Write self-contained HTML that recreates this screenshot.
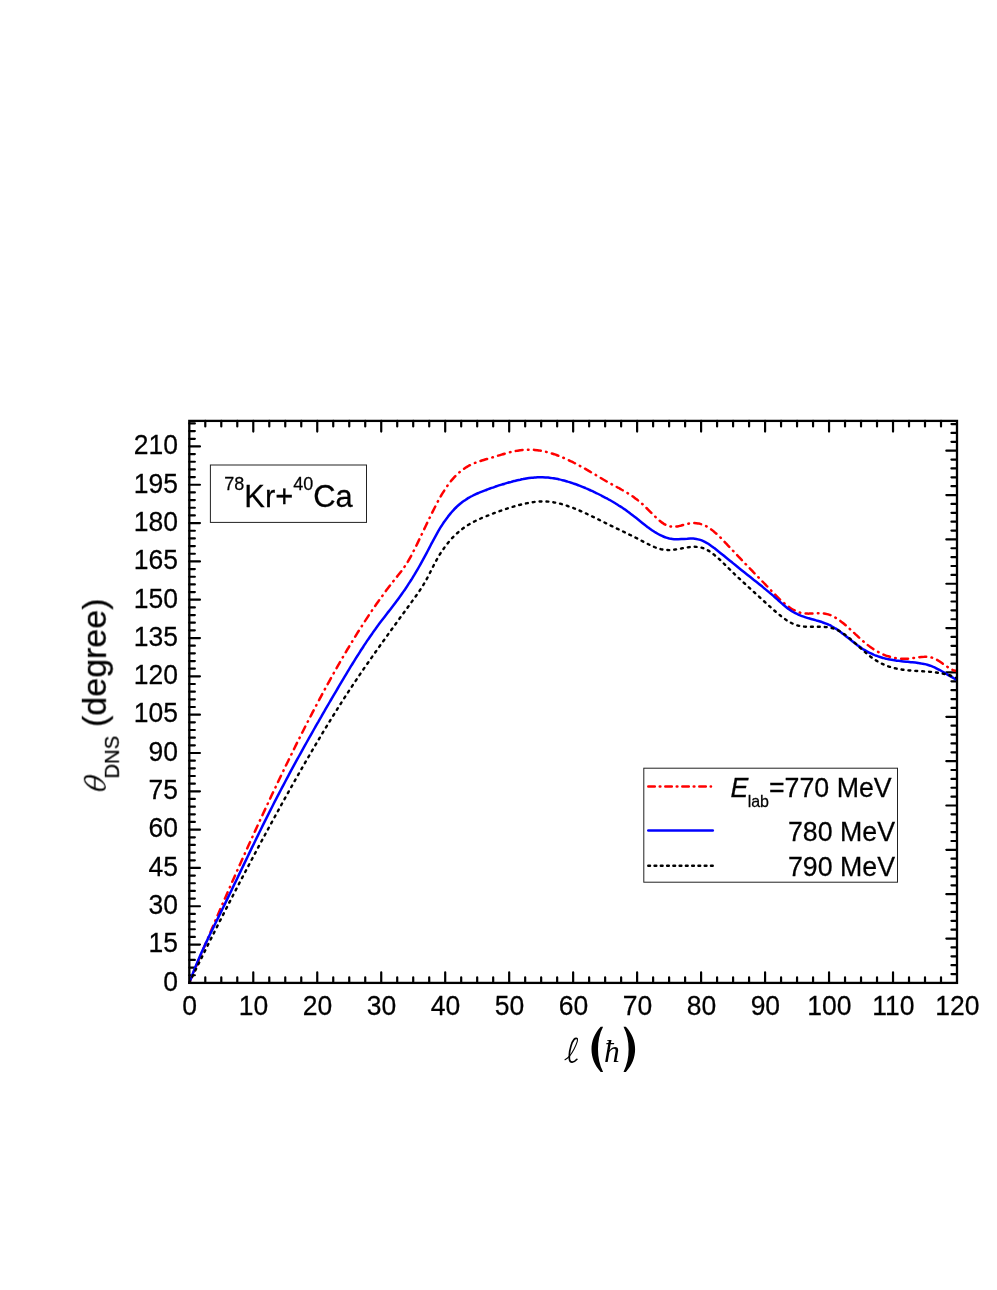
<!DOCTYPE html>
<html><head><meta charset="utf-8"><title>theta DNS vs l</title>
<style>html,body{margin:0;padding:0;background:#fff;}body{width:997px;height:1290px;overflow:hidden;}svg{display:block;}text{font-family:"Liberation Sans",sans-serif;fill:#000;stroke:#000;stroke-width:.25px;}.ser{font-family:"Liberation Serif",serif;font-style:italic;stroke:none;}</style></head><body>
<svg width="997" height="1290" viewBox="0 0 997 1290">
<rect x="0" y="0" width="997" height="1290" fill="#fff"/>
<g stroke="#000" fill="none" stroke-linecap="butt">
<path d="M205.29,982.90v-5.55M205.29,420.90v5.55M221.29,982.90v-5.55M221.29,420.90v5.55M237.28,982.90v-5.55M237.28,420.90v5.55M253.28,982.90v-10.65M253.28,420.90v10.65M269.27,982.90v-5.55M269.27,420.90v5.55M285.26,982.90v-5.55M285.26,420.90v5.55M301.26,982.90v-5.55M301.26,420.90v5.55M317.25,982.90v-10.65M317.25,420.90v10.65M333.24,982.90v-5.55M333.24,420.90v5.55M349.24,982.90v-5.55M349.24,420.90v5.55M365.23,982.90v-5.55M365.23,420.90v5.55M381.23,982.90v-10.65M381.23,420.90v10.65M397.22,982.90v-5.55M397.22,420.90v5.55M413.21,982.90v-5.55M413.21,420.90v5.55M429.21,982.90v-5.55M429.21,420.90v5.55M445.20,982.90v-10.65M445.20,420.90v10.65M461.19,982.90v-5.55M461.19,420.90v5.55M477.19,982.90v-5.55M477.19,420.90v5.55M493.18,982.90v-5.55M493.18,420.90v5.55M509.18,982.90v-10.65M509.18,420.90v10.65M525.17,982.90v-5.55M525.17,420.90v5.55M541.16,982.90v-5.55M541.16,420.90v5.55M557.16,982.90v-5.55M557.16,420.90v5.55M573.15,982.90v-10.65M573.15,420.90v10.65M589.14,982.90v-5.55M589.14,420.90v5.55M605.14,982.90v-5.55M605.14,420.90v5.55M621.13,982.90v-5.55M621.13,420.90v5.55M637.12,982.90v-10.65M637.12,420.90v10.65M653.12,982.90v-5.55M653.12,420.90v5.55M669.11,982.90v-5.55M669.11,420.90v5.55M685.11,982.90v-5.55M685.11,420.90v5.55M701.10,982.90v-10.65M701.10,420.90v10.65M717.09,982.90v-5.55M717.09,420.90v5.55M733.09,982.90v-5.55M733.09,420.90v5.55M749.08,982.90v-5.55M749.08,420.90v5.55M765.08,982.90v-10.65M765.08,420.90v10.65M781.07,982.90v-5.55M781.07,420.90v5.55M797.06,982.90v-5.55M797.06,420.90v5.55M813.06,982.90v-5.55M813.06,420.90v5.55M829.05,982.90v-10.65M829.05,420.90v10.65M845.04,982.90v-5.55M845.04,420.90v5.55M861.04,982.90v-5.55M861.04,420.90v5.55M877.03,982.90v-5.55M877.03,420.90v5.55M893.03,982.90v-10.65M893.03,420.90v10.65M909.02,982.90v-5.55M909.02,420.90v5.55M925.01,982.90v-5.55M925.01,420.90v5.55M941.01,982.90v-5.55M941.01,420.90v5.55M189.30,975.24h5.55M189.30,967.57h5.55M189.30,959.91h5.55M189.30,952.25h5.55M189.30,944.58h10.65M189.30,936.92h5.55M189.30,929.25h5.55M189.30,921.59h5.55M189.30,913.93h5.55M189.30,906.26h10.65M189.30,898.60h5.55M189.30,890.94h5.55M189.30,883.27h5.55M189.30,875.61h5.55M189.30,867.95h10.65M189.30,860.28h5.55M189.30,852.62h5.55M189.30,844.95h5.55M189.30,837.29h5.55M189.30,829.63h10.65M189.30,821.96h5.55M189.30,814.30h5.55M189.30,806.64h5.55M189.30,798.97h5.55M189.30,791.31h10.65M189.30,783.65h5.55M189.30,775.98h5.55M189.30,768.32h5.55M189.30,760.65h5.55M189.30,752.99h10.65M189.30,745.33h5.55M189.30,737.66h5.55M189.30,730.00h5.55M189.30,722.34h5.55M189.30,714.67h10.65M189.30,707.01h5.55M189.30,699.35h5.55M189.30,691.68h5.55M189.30,684.02h5.55M189.30,676.35h10.65M189.30,668.69h5.55M189.30,661.03h5.55M189.30,653.36h5.55M189.30,645.70h5.55M189.30,638.04h10.65M189.30,630.37h5.55M189.30,622.71h5.55M189.30,615.05h5.55M189.30,607.38h5.55M189.30,599.72h10.65M189.30,592.05h5.55M189.30,584.39h5.55M189.30,576.73h5.55M189.30,569.06h5.55M189.30,561.40h10.65M189.30,553.74h5.55M189.30,546.07h5.55M189.30,538.41h5.55M189.30,530.75h5.55M189.30,523.08h10.65M189.30,515.42h5.55M189.30,507.75h5.55M189.30,500.09h5.55M189.30,492.43h5.55M189.30,484.76h10.65M189.30,477.10h5.55M189.30,469.44h5.55M189.30,461.77h5.55M189.30,454.11h5.55M189.30,446.45h10.65M189.30,438.78h5.55M189.30,431.12h5.55M189.30,423.45h5.55M957.00,974.03h-5.55M957.00,965.16h-5.55M957.00,956.29h-5.55M957.00,947.42h-5.55M957.00,938.55h-10.65M957.00,929.68h-5.55M957.00,920.81h-5.55M957.00,911.94h-5.55M957.00,903.07h-5.55M957.00,894.20h-10.65M957.00,885.33h-5.55M957.00,876.46h-5.55M957.00,867.59h-5.55M957.00,858.72h-5.55M957.00,849.85h-10.65M957.00,840.98h-5.55M957.00,832.11h-5.55M957.00,823.24h-5.55M957.00,814.37h-5.55M957.00,805.50h-10.65M957.00,796.63h-5.55M957.00,787.76h-5.55M957.00,778.89h-5.55M957.00,770.02h-5.55M957.00,761.15h-10.65M957.00,752.28h-5.55M957.00,743.41h-5.55M957.00,734.54h-5.55M957.00,725.67h-5.55M957.00,716.80h-10.65M957.00,707.93h-5.55M957.00,699.06h-5.55M957.00,690.19h-5.55M957.00,681.32h-5.55M957.00,672.45h-10.65M957.00,663.58h-5.55M957.00,654.71h-5.55M957.00,645.84h-5.55M957.00,636.97h-5.55M957.00,628.10h-10.65M957.00,619.23h-5.55M957.00,610.36h-5.55M957.00,601.49h-5.55M957.00,592.62h-5.55M957.00,583.75h-10.65M957.00,574.88h-5.55M957.00,566.01h-5.55M957.00,557.14h-5.55M957.00,548.27h-5.55M957.00,539.40h-10.65M957.00,530.53h-5.55M957.00,521.66h-5.55M957.00,512.79h-5.55M957.00,503.92h-5.55M957.00,495.05h-10.65M957.00,486.18h-5.55M957.00,477.31h-5.55M957.00,468.44h-5.55M957.00,459.57h-5.55M957.00,450.70h-10.65M957.00,441.83h-5.55M957.00,432.96h-5.55M957.00,424.09h-5.55" stroke-width="2.20" stroke-linecap="round"/>
</g>
<clipPath id="cp"><rect x="188.30" y="420.90" width="769.70" height="563.00"/></clipPath>
<g clip-path="url(#cp)" fill="none" stroke-linejoin="round">
<path d="M189.3,982.9C189.8,981.7 191.3,978.0 192.3,975.6C193.3,973.2 194.3,970.8 195.3,968.3C196.3,965.9 197.3,963.5 198.3,961.1C199.3,958.7 200.3,956.3 201.3,953.9C202.3,951.5 203.3,949.2 204.3,946.8C205.3,944.4 206.3,942.0 207.3,939.7C208.3,937.3 209.3,934.9 210.3,932.6C211.3,930.2 212.3,927.9 213.3,925.5C214.3,923.2 215.3,920.8 216.3,918.5C217.3,916.2 218.3,913.9 219.3,911.5C220.3,909.2 221.3,906.9 222.3,904.6C223.3,902.3 224.3,900.0 225.3,897.7C226.3,895.4 227.3,893.1 228.3,890.8C229.3,888.5 230.3,886.3 231.3,884.0C232.3,881.7 233.3,879.4 234.3,877.2C235.3,874.9 236.3,872.7 237.3,870.4C238.3,868.2 239.3,865.9 240.3,863.7C241.3,861.5 242.3,859.2 243.3,857.0C244.3,854.8 245.3,852.5 246.3,850.3C247.3,848.1 248.3,845.9 249.3,843.7C250.3,841.5 251.3,839.3 252.3,837.1C253.3,834.9 254.3,832.7 255.3,830.6C256.3,828.4 257.3,826.2 258.3,824.0C259.3,821.9 260.3,819.7 261.3,817.5C262.3,815.4 263.3,813.2 264.3,811.1C265.3,808.9 266.3,806.8 267.3,804.7C268.3,802.5 269.3,800.4 270.3,798.3C271.3,796.1 272.3,794.0 273.3,791.9C274.3,789.8 275.3,787.7 276.3,785.6C277.3,783.5 278.3,781.4 279.3,779.3C280.3,777.2 281.3,775.1 282.3,773.1C283.3,771.0 284.3,768.9 285.3,766.8C286.3,764.8 287.3,762.7 288.3,760.7C289.3,758.6 290.3,756.6 291.3,754.6C292.3,752.5 293.3,750.5 294.3,748.5C295.3,746.4 296.3,744.4 297.3,742.4C298.3,740.4 299.3,738.4 300.3,736.4C301.3,734.4 302.3,732.5 303.3,730.5C304.3,728.5 305.3,726.5 306.3,724.6C307.3,722.6 308.3,720.7 309.3,718.7C310.3,716.8 311.3,714.9 312.3,712.9C313.3,711.0 314.3,709.1 315.3,707.2C316.3,705.3 317.3,703.4 318.3,701.5C319.3,699.6 320.3,697.8 321.3,695.9C322.3,694.0 323.3,692.2 324.3,690.3C325.3,688.5 326.3,686.6 327.3,684.8C328.3,683.0 329.3,681.1 330.3,679.3C331.3,677.5 332.3,675.7 333.3,673.9C334.3,672.2 335.3,670.4 336.3,668.6C337.3,666.8 338.3,665.1 339.3,663.4C340.3,661.6 341.3,659.9 342.3,658.2C343.3,656.4 344.3,654.7 345.3,653.0C346.3,651.3 347.3,649.6 348.3,648.0C349.3,646.3 350.3,644.6 351.3,643.0C352.3,641.3 353.3,639.7 354.3,638.0C355.3,636.4 356.3,634.8 357.3,633.2C358.3,631.6 359.3,630.0 360.3,628.4C361.3,626.9 362.3,625.3 363.3,623.7C364.3,622.2 365.3,620.6 366.3,619.1C367.3,617.6 368.3,616.1 369.3,614.6C370.3,613.1 371.3,611.6 372.3,610.1C373.3,608.7 374.3,607.2 375.3,605.7C376.3,604.3 377.3,602.9 378.3,601.5C379.3,600.0 380.3,598.6 381.3,597.3C382.3,595.9 383.3,594.5 384.3,593.1C385.3,591.8 386.3,590.4 387.3,589.1C388.3,587.8 389.3,586.5 390.3,585.2C391.3,583.9 392.3,582.6 393.3,581.3C394.3,580.0 395.3,578.8 396.3,577.5C397.3,576.3 398.3,575.1 399.3,573.8C400.3,572.5 401.3,571.2 402.3,569.9C403.3,568.5 404.3,567.1 405.3,565.6C406.3,564.1 407.3,562.6 408.3,560.9C409.3,559.2 410.3,557.4 411.3,555.6C412.3,553.7 413.3,551.7 414.3,549.7C415.3,547.7 416.3,545.7 417.3,543.6C418.3,541.5 419.3,539.4 420.3,537.4C421.3,535.3 422.3,533.2 423.3,531.1C424.3,529.0 425.3,526.9 426.3,524.8C427.3,522.7 428.3,520.6 429.3,518.6C430.3,516.5 431.3,514.5 432.3,512.4C433.3,510.4 434.3,508.4 435.3,506.5C436.3,504.5 437.3,502.6 438.3,500.7C439.3,498.9 440.3,497.1 441.3,495.3C442.4,493.6 443.4,491.9 444.4,490.3C445.4,488.8 446.4,487.2 447.4,485.8C448.4,484.4 449.4,483.0 450.4,481.7C451.4,480.5 452.5,479.3 453.5,478.1C454.5,477.0 455.5,475.9 456.5,474.9C457.6,473.9 458.6,473.0 459.6,472.1C460.6,471.2 461.7,470.4 462.7,469.6C463.8,468.9 464.8,468.2 465.8,467.5C466.9,466.9 467.9,466.3 469.0,465.7C470.0,465.2 471.1,464.6 472.1,464.1C473.2,463.7 474.3,463.2 475.3,462.8C476.4,462.4 477.5,462.0 478.6,461.6C479.6,461.2 480.7,460.9 481.8,460.5C482.9,460.2 484.0,459.9 485.1,459.5C486.2,459.2 487.2,458.9 488.3,458.6C489.4,458.3 490.5,457.9 491.6,457.6C492.7,457.3 493.8,457.0 494.9,456.6C496.0,456.3 497.1,456.0 498.2,455.6C499.3,455.3 500.4,455.0 501.5,454.6C502.6,454.3 503.7,454.0 504.7,453.7C505.8,453.4 506.9,453.1 507.9,452.8C509.0,452.5 510.1,452.2 511.1,452.0C512.2,451.7 513.2,451.5 514.2,451.3C515.3,451.0 516.3,450.9 517.3,450.7C518.3,450.5 519.3,450.4 520.3,450.2C521.3,450.1 522.3,450.0 523.2,449.9C524.2,449.9 525.2,449.8 526.1,449.7C527.1,449.7 528.0,449.7 529.0,449.7C529.9,449.7 530.8,449.7 531.8,449.7C532.7,449.8 533.6,449.8 534.5,449.9C535.4,450.0 536.3,450.1 537.3,450.2C538.2,450.3 539.1,450.4 540.0,450.6C540.9,450.7 541.8,450.9 542.7,451.1C543.6,451.3 544.5,451.5 545.4,451.7C546.3,451.9 547.2,452.1 548.1,452.4C549.0,452.6 549.9,452.9 550.8,453.2C551.7,453.4 552.7,453.7 553.6,454.0C554.5,454.3 555.4,454.7 556.4,455.0C557.3,455.4 558.2,455.7 559.2,456.1C560.1,456.4 561.0,456.8 562.0,457.2C562.9,457.6 563.9,458.0 564.9,458.4C565.8,458.9 566.8,459.3 567.7,459.7C568.7,460.2 569.7,460.6 570.6,461.1C571.6,461.6 572.6,462.0 573.5,462.5C574.5,463.0 575.5,463.5 576.5,464.0C577.5,464.5 578.5,465.1 579.4,465.6C580.4,466.1 581.4,466.7 582.4,467.2C583.4,467.8 584.4,468.3 585.4,468.9C586.4,469.5 587.4,470.0 588.3,470.6C589.3,471.2 590.3,471.8 591.3,472.4C592.3,473.0 593.3,473.6 594.3,474.1C595.3,474.7 596.3,475.3 597.3,475.9C598.3,476.5 599.3,477.1 600.3,477.7C601.3,478.3 602.3,478.9 603.3,479.5C604.3,480.0 605.3,480.6 606.3,481.2C607.3,481.8 608.3,482.3 609.3,482.9C610.3,483.5 611.3,484.0 612.3,484.6C613.3,485.1 614.3,485.6 615.3,486.2C616.3,486.7 617.3,487.3 618.3,487.8C619.3,488.4 620.3,488.9 621.3,489.5C622.3,490.0 623.3,490.6 624.3,491.2C625.3,491.7 626.3,492.3 627.3,492.9C628.3,493.6 629.3,494.2 630.3,494.8C631.3,495.5 632.3,496.1 633.3,496.8C634.3,497.5 635.3,498.3 636.3,499.0C637.3,499.8 638.3,500.6 639.3,501.4C640.3,502.2 641.3,503.1 642.3,504.0C643.3,504.9 644.3,505.8 645.3,506.8C646.3,507.8 647.3,508.8 648.3,509.8C649.3,510.8 650.3,511.8 651.3,512.8C652.3,513.8 653.3,514.8 654.3,515.8C655.3,516.8 656.3,517.7 657.3,518.6C658.3,519.5 659.3,520.4 660.3,521.2C661.3,522.0 662.3,522.8 663.3,523.4C664.3,524.1 665.3,524.6 666.3,525.1C667.3,525.6 668.3,526.0 669.3,526.2C670.3,526.5 671.3,526.6 672.3,526.7C673.3,526.8 674.3,526.7 675.3,526.6C676.3,526.5 677.3,526.4 678.3,526.2C679.3,526.0 680.3,525.7 681.3,525.5C682.3,525.2 683.3,524.9 684.3,524.6C685.3,524.4 686.3,524.1 687.3,523.9C688.3,523.7 689.3,523.5 690.3,523.3C691.3,523.2 692.3,523.1 693.3,523.1C694.3,523.1 695.3,523.1 696.3,523.2C697.3,523.3 698.3,523.4 699.3,523.6C700.3,523.9 701.3,524.1 702.3,524.5C703.3,524.8 704.3,525.3 705.3,525.7C706.3,526.2 707.3,526.8 708.3,527.4C709.3,528.1 710.3,528.7 711.3,529.5C712.3,530.2 713.3,531.0 714.3,531.9C715.3,532.7 716.3,533.6 717.3,534.6C718.3,535.5 719.3,536.5 720.3,537.4C721.3,538.4 722.3,539.5 723.3,540.5C724.3,541.5 725.3,542.6 726.3,543.6C727.3,544.7 728.3,545.8 729.3,546.8C730.3,547.9 731.3,549.0 732.3,550.0C733.3,551.1 734.3,552.2 735.3,553.2C736.3,554.3 737.3,555.3 738.3,556.4C739.3,557.4 740.3,558.5 741.3,559.5C742.3,560.6 743.3,561.6 744.3,562.7C745.3,563.7 746.3,564.8 747.3,565.8C748.3,566.8 749.3,567.9 750.3,568.9C751.3,569.9 752.3,571.0 753.3,572.0C754.3,573.1 755.3,574.1 756.3,575.1C757.3,576.2 758.3,577.2 759.3,578.2C760.3,579.3 761.3,580.3 762.3,581.3C763.3,582.4 764.3,583.4 765.3,584.4C766.3,585.5 767.3,586.5 768.3,587.6C769.3,588.6 770.3,589.6 771.3,590.7C772.3,591.7 773.3,592.8 774.3,593.8C775.3,594.8 776.3,595.8 777.3,596.8C778.3,597.8 779.3,598.8 780.3,599.8C781.3,600.7 782.3,601.6 783.3,602.5C784.3,603.4 785.3,604.2 786.3,605.0C787.3,605.8 788.3,606.5 789.3,607.2C790.3,607.9 791.3,608.6 792.3,609.2C793.3,609.8 794.3,610.3 795.3,610.8C796.3,611.3 797.3,611.7 798.3,612.0C799.3,612.4 800.3,612.7 801.3,612.9C802.3,613.1 803.3,613.3 804.3,613.4C805.3,613.5 806.3,613.6 807.3,613.6C808.3,613.7 809.3,613.6 810.3,613.6C811.3,613.6 812.3,613.5 813.3,613.5C814.3,613.4 815.3,613.4 816.3,613.3C817.3,613.3 818.3,613.3 819.3,613.3C820.3,613.3 821.3,613.3 822.3,613.3C823.3,613.4 824.3,613.5 825.3,613.7C826.3,613.9 827.3,614.1 828.3,614.4C829.3,614.7 830.3,615.0 831.3,615.5C832.3,615.9 833.3,616.4 834.3,617.0C835.3,617.5 836.3,618.1 837.3,618.8C838.3,619.4 839.3,620.2 840.3,620.9C841.3,621.6 842.3,622.4 843.3,623.2C844.3,624.1 845.3,624.9 846.3,625.8C847.3,626.7 848.3,627.6 849.3,628.5C850.3,629.4 851.3,630.3 852.3,631.2C853.3,632.2 854.3,633.1 855.3,634.1C856.3,635.0 857.3,635.9 858.3,636.9C859.3,637.8 860.3,638.7 861.3,639.6C862.3,640.5 863.3,641.4 864.3,642.2C865.3,643.1 866.3,643.9 867.3,644.7C868.3,645.5 869.3,646.3 870.3,647.0C871.3,647.7 872.3,648.4 873.3,649.1C874.3,649.7 875.3,650.3 876.3,650.9C877.3,651.5 878.3,652.1 879.3,652.6C880.3,653.1 881.3,653.6 882.3,654.0C883.3,654.5 884.3,654.9 885.3,655.3C886.3,655.7 887.3,656.0 888.3,656.3C889.3,656.6 890.3,656.9 891.3,657.2C892.3,657.4 893.3,657.7 894.3,657.9C895.3,658.1 896.3,658.2 897.3,658.4C898.3,658.5 899.3,658.6 900.3,658.7C901.3,658.7 902.3,658.8 903.3,658.8C904.3,658.8 905.3,658.8 906.3,658.8C907.3,658.7 908.3,658.7 909.3,658.6C910.3,658.5 911.3,658.4 912.3,658.2C913.3,658.1 914.3,657.9 915.3,657.8C916.3,657.6 917.3,657.5 918.3,657.3C919.3,657.2 920.3,657.1 921.3,657.0C922.3,656.9 923.3,656.8 924.3,656.8C925.3,656.7 926.3,656.7 927.3,656.8C928.3,656.9 929.3,657.0 930.3,657.2C931.3,657.4 932.3,657.7 933.3,658.1C934.3,658.4 935.3,658.9 936.3,659.4C937.3,660.0 938.3,660.6 939.3,661.2C940.3,661.9 941.3,662.6 942.3,663.3C943.3,664.0 944.3,664.7 945.3,665.4C946.3,666.1 947.3,666.8 948.3,667.4C949.3,668.1 950.3,668.7 951.3,669.2C952.3,669.7 953.3,670.2 954.3,670.5C955.2,670.8 956.5,671.0 957.0,671.1" stroke="#f00" stroke-width="2.5" stroke-dasharray="6.9 5.4 0.6 5.4" stroke-linecap="round"/>
<path d="M189.3,982.9C189.8,981.6 191.3,977.5 192.3,974.9C193.3,972.3 194.3,969.7 195.3,967.3C196.3,964.8 197.3,962.4 198.3,960.0C199.3,957.7 200.3,955.4 201.3,953.1C202.3,950.9 203.3,948.7 204.3,946.5C205.3,944.3 206.3,942.2 207.3,940.1C208.3,937.9 209.3,935.9 210.3,933.8C211.3,931.7 212.3,929.7 213.3,927.6C214.3,925.6 215.3,923.6 216.3,921.5C217.3,919.5 218.3,917.5 219.3,915.4C220.3,913.4 221.3,911.3 222.3,909.3C223.3,907.2 224.3,905.2 225.3,903.1C226.3,901.1 227.3,899.0 228.3,896.9C229.3,894.8 230.3,892.8 231.3,890.7C232.3,888.6 233.3,886.5 234.3,884.4C235.3,882.4 236.3,880.3 237.3,878.2C238.3,876.1 239.3,874.0 240.3,871.9C241.3,869.8 242.3,867.7 243.3,865.6C244.3,863.6 245.3,861.5 246.3,859.4C247.3,857.3 248.3,855.2 249.3,853.1C250.3,851.1 251.3,849.0 252.3,846.9C253.3,844.9 254.3,842.8 255.3,840.7C256.3,838.7 257.3,836.6 258.3,834.6C259.3,832.5 260.3,830.5 261.3,828.5C262.3,826.4 263.3,824.4 264.3,822.4C265.3,820.4 266.3,818.4 267.3,816.4C268.3,814.4 269.3,812.4 270.3,810.4C271.3,808.4 272.3,806.5 273.3,804.5C274.3,802.5 275.3,800.6 276.3,798.7C277.3,796.7 278.3,794.8 279.3,792.9C280.3,791.0 281.3,789.0 282.3,787.1C283.3,785.2 284.3,783.4 285.3,781.5C286.3,779.6 287.3,777.7 288.3,775.8C289.3,774.0 290.3,772.1 291.3,770.2C292.3,768.4 293.3,766.6 294.3,764.7C295.3,762.9 296.3,761.0 297.3,759.2C298.3,757.4 299.3,755.6 300.3,753.8C301.3,752.0 302.3,750.1 303.3,748.3C304.3,746.5 305.3,744.8 306.3,743.0C307.3,741.2 308.3,739.4 309.3,737.6C310.3,735.9 311.3,734.1 312.3,732.3C313.3,730.6 314.3,728.8 315.3,727.0C316.3,725.3 317.3,723.5 318.3,721.8C319.3,720.0 320.3,718.3 321.3,716.6C322.3,714.8 323.3,713.1 324.3,711.4C325.3,709.6 326.3,707.9 327.3,706.2C328.3,704.5 329.3,702.8 330.3,701.0C331.3,699.3 332.3,697.6 333.3,695.9C334.3,694.2 335.3,692.5 336.3,690.8C337.3,689.1 338.3,687.4 339.3,685.7C340.3,684.0 341.3,682.3 342.3,680.6C343.3,678.9 344.3,677.3 345.3,675.6C346.3,673.9 347.3,672.3 348.3,670.6C349.3,669.0 350.3,667.3 351.3,665.7C352.3,664.1 353.3,662.4 354.3,660.8C355.3,659.2 356.3,657.6 357.3,656.0C358.3,654.5 359.3,652.9 360.3,651.3C361.3,649.8 362.3,648.2 363.3,646.7C364.3,645.2 365.3,643.6 366.3,642.1C367.3,640.6 368.3,639.2 369.3,637.7C370.3,636.2 371.3,634.8 372.3,633.4C373.3,631.9 374.3,630.5 375.3,629.2C376.3,627.8 377.3,626.4 378.3,625.1C379.3,623.7 380.3,622.4 381.3,621.1C382.3,619.8 383.3,618.5 384.3,617.2C385.3,615.9 386.3,614.6 387.3,613.3C388.3,612.0 389.3,610.8 390.3,609.5C391.3,608.2 392.3,606.9 393.3,605.6C394.3,604.3 395.3,603.0 396.3,601.6C397.3,600.3 398.3,598.9 399.3,597.5C400.3,596.2 401.3,594.8 402.3,593.3C403.3,591.9 404.3,590.4 405.3,589.0C406.3,587.5 407.3,586.0 408.3,584.4C409.3,582.9 410.3,581.3 411.3,579.8C412.3,578.2 413.3,576.5 414.3,574.9C415.3,573.2 416.3,571.6 417.3,569.9C418.3,568.1 419.3,566.4 420.3,564.6C421.3,562.8 422.3,561.0 423.3,559.2C424.3,557.3 425.3,555.5 426.3,553.6C427.3,551.7 428.3,549.8 429.3,547.9C430.3,546.0 431.3,544.0 432.3,542.2C433.3,540.3 434.3,538.4 435.3,536.6C436.3,534.8 437.3,533.0 438.3,531.2C439.3,529.5 440.3,527.8 441.3,526.2C442.4,524.6 443.4,523.0 444.4,521.6C445.4,520.1 446.4,518.7 447.4,517.4C448.4,516.0 449.4,514.8 450.4,513.6C451.4,512.4 452.5,511.2 453.5,510.1C454.5,509.0 455.5,508.0 456.5,507.0C457.6,506.1 458.6,505.2 459.6,504.3C460.6,503.4 461.7,502.6 462.7,501.8C463.8,501.1 464.8,500.3 465.8,499.7C466.9,499.0 467.9,498.3 469.0,497.7C470.0,497.1 471.1,496.5 472.1,496.0C473.2,495.4 474.3,494.9 475.3,494.4C476.4,493.9 477.5,493.4 478.6,493.0C479.6,492.5 480.7,492.1 481.8,491.7C482.9,491.2 484.0,490.8 485.1,490.4C486.2,490.0 487.2,489.5 488.3,489.1C489.4,488.7 490.5,488.3 491.6,487.9C492.7,487.6 493.8,487.2 494.9,486.8C496.0,486.4 497.1,486.1 498.2,485.7C499.3,485.3 500.4,485.0 501.5,484.6C502.6,484.3 503.7,484.0 504.7,483.7C505.8,483.3 506.9,483.0 507.9,482.7C509.0,482.4 510.1,482.1 511.1,481.9C512.2,481.6 513.2,481.3 514.2,481.1C515.3,480.8 516.3,480.6 517.3,480.3C518.3,480.1 519.3,479.9 520.3,479.7C521.3,479.4 522.3,479.2 523.2,479.1C524.2,478.9 525.2,478.7 526.1,478.5C527.1,478.4 528.0,478.2 529.0,478.1C529.9,478.0 530.8,477.9 531.8,477.8C532.7,477.7 533.6,477.6 534.5,477.5C535.4,477.4 536.3,477.4 537.3,477.3C538.2,477.3 539.1,477.3 540.0,477.3C540.9,477.3 541.8,477.3 542.7,477.3C543.6,477.3 544.5,477.3 545.4,477.4C546.3,477.5 547.2,477.5 548.1,477.6C549.0,477.7 549.9,477.8 550.8,477.9C551.7,478.1 552.7,478.2 553.6,478.3C554.5,478.5 555.4,478.6 556.4,478.8C557.3,479.0 558.2,479.2 559.2,479.4C560.1,479.6 561.0,479.8 562.0,480.1C562.9,480.3 563.9,480.5 564.9,480.8C565.8,481.1 566.8,481.3 567.7,481.6C568.7,481.9 569.7,482.2 570.6,482.5C571.6,482.8 572.6,483.2 573.5,483.5C574.5,483.8 575.5,484.2 576.5,484.5C577.5,484.9 578.5,485.3 579.4,485.6C580.4,486.0 581.4,486.4 582.4,486.8C583.4,487.2 584.4,487.6 585.4,488.0C586.4,488.5 587.4,488.9 588.3,489.3C589.3,489.8 590.3,490.2 591.3,490.7C592.3,491.1 593.3,491.6 594.3,492.1C595.3,492.6 596.3,493.0 597.3,493.5C598.3,494.0 599.3,494.5 600.3,495.0C601.3,495.5 602.3,496.1 603.3,496.6C604.3,497.1 605.3,497.6 606.3,498.2C607.3,498.7 608.3,499.3 609.3,499.8C610.3,500.4 611.3,501.0 612.3,501.5C613.3,502.1 614.3,502.7 615.3,503.3C616.3,503.9 617.3,504.6 618.3,505.2C619.3,505.8 620.3,506.5 621.3,507.1C622.3,507.8 623.3,508.5 624.3,509.1C625.3,509.8 626.3,510.5 627.3,511.3C628.3,512.0 629.3,512.7 630.3,513.5C631.3,514.2 632.3,515.0 633.3,515.8C634.3,516.5 635.3,517.3 636.3,518.1C637.3,518.9 638.3,519.7 639.3,520.5C640.3,521.3 641.3,522.1 642.3,522.9C643.3,523.7 644.3,524.5 645.3,525.3C646.3,526.0 647.3,526.8 648.3,527.5C649.3,528.3 650.3,529.0 651.3,529.7C652.3,530.4 653.3,531.0 654.3,531.7C655.3,532.3 656.3,532.9 657.3,533.5C658.3,534.1 659.3,534.6 660.3,535.1C661.3,535.6 662.3,536.1 663.3,536.5C664.3,536.9 665.3,537.3 666.3,537.6C667.3,537.9 668.3,538.2 669.3,538.5C670.3,538.7 671.3,538.9 672.3,539.0C673.3,539.1 674.3,539.2 675.3,539.2C676.3,539.3 677.3,539.3 678.3,539.2C679.3,539.2 680.3,539.2 681.3,539.1C682.3,539.0 683.3,539.0 684.3,538.9C685.3,538.8 686.3,538.7 687.3,538.7C688.3,538.6 689.3,538.6 690.3,538.6C691.3,538.6 692.3,538.6 693.3,538.6C694.3,538.7 695.3,538.8 696.3,538.9C697.3,539.1 698.3,539.3 699.3,539.6C700.3,539.9 701.3,540.2 702.3,540.6C703.3,541.0 704.3,541.5 705.3,542.1C706.3,542.6 707.3,543.2 708.3,543.8C709.3,544.5 710.3,545.2 711.3,545.9C712.3,546.6 713.3,547.4 714.3,548.1C715.3,548.9 716.3,549.7 717.3,550.5C718.3,551.3 719.3,552.1 720.3,552.9C721.3,553.7 722.3,554.5 723.3,555.3C724.3,556.2 725.3,557.0 726.3,557.8C727.3,558.6 728.3,559.4 729.3,560.2C730.3,561.0 731.3,561.8 732.3,562.6C733.3,563.5 734.3,564.3 735.3,565.1C736.3,565.9 737.3,566.7 738.3,567.5C739.3,568.3 740.3,569.1 741.3,569.9C742.3,570.7 743.3,571.5 744.3,572.3C745.3,573.1 746.3,573.9 747.3,574.7C748.3,575.5 749.3,576.3 750.3,577.1C751.3,577.9 752.3,578.7 753.3,579.5C754.3,580.2 755.3,581.0 756.3,581.8C757.3,582.6 758.3,583.4 759.3,584.2C760.3,585.0 761.3,585.8 762.3,586.6C763.3,587.4 764.3,588.2 765.3,589.1C766.3,589.9 767.3,590.7 768.3,591.6C769.3,592.4 770.3,593.2 771.3,594.1C772.3,595.0 773.3,595.8 774.3,596.7C775.3,597.6 776.3,598.5 777.3,599.4C778.3,600.3 779.3,601.2 780.3,602.1C781.3,603.0 782.3,603.9 783.3,604.7C784.3,605.6 785.3,606.4 786.3,607.2C787.3,608.0 788.3,608.8 789.3,609.5C790.3,610.2 791.3,610.9 792.3,611.5C793.3,612.1 794.3,612.7 795.3,613.2C796.3,613.7 797.3,614.2 798.3,614.6C799.3,615.1 800.3,615.5 801.3,615.9C802.3,616.2 803.3,616.6 804.3,616.9C805.3,617.3 806.3,617.6 807.3,617.9C808.3,618.2 809.3,618.4 810.3,618.7C811.3,619.0 812.3,619.3 813.3,619.5C814.3,619.8 815.3,620.1 816.3,620.4C817.3,620.6 818.3,620.9 819.3,621.2C820.3,621.5 821.3,621.8 822.3,622.2C823.3,622.5 824.3,622.9 825.3,623.3C826.3,623.7 827.3,624.1 828.3,624.5C829.3,625.0 830.3,625.4 831.3,626.0C832.3,626.5 833.3,627.1 834.3,627.7C835.3,628.3 836.3,629.0 837.3,629.6C838.3,630.3 839.3,631.0 840.3,631.8C841.3,632.5 842.3,633.3 843.3,634.0C844.3,634.8 845.3,635.6 846.3,636.4C847.3,637.2 848.3,638.0 849.3,638.8C850.3,639.6 851.3,640.4 852.3,641.2C853.3,642.0 854.3,642.8 855.3,643.6C856.3,644.3 857.3,645.1 858.3,645.8C859.3,646.6 860.3,647.3 861.3,647.9C862.3,648.6 863.3,649.3 864.3,649.9C865.3,650.5 866.3,651.1 867.3,651.6C868.3,652.2 869.3,652.7 870.3,653.2C871.3,653.7 872.3,654.1 873.3,654.5C874.3,655.0 875.3,655.4 876.3,655.7C877.3,656.1 878.3,656.5 879.3,656.8C880.3,657.1 881.3,657.4 882.3,657.7C883.3,658.0 884.3,658.2 885.3,658.5C886.3,658.7 887.3,659.0 888.3,659.2C889.3,659.4 890.3,659.6 891.3,659.7C892.3,659.9 893.3,660.1 894.3,660.2C895.3,660.4 896.3,660.5 897.3,660.7C898.3,660.8 899.3,660.9 900.3,661.0C901.3,661.2 902.3,661.3 903.3,661.4C904.3,661.5 905.3,661.6 906.3,661.7C907.3,661.8 908.3,661.9 909.3,662.0C910.3,662.1 911.3,662.2 912.3,662.3C913.3,662.4 914.3,662.5 915.3,662.6C916.3,662.7 917.3,662.9 918.3,663.0C919.3,663.1 920.3,663.3 921.3,663.5C922.3,663.6 923.3,663.8 924.3,664.1C925.3,664.3 926.3,664.5 927.3,664.8C928.3,665.1 929.3,665.4 930.3,665.7C931.3,666.1 932.3,666.5 933.3,666.9C934.3,667.3 935.3,667.8 936.3,668.3C937.3,668.8 938.3,669.3 939.3,669.8C940.3,670.4 941.3,671.0 942.3,671.5C943.3,672.1 944.3,672.7 945.3,673.3C946.3,673.9 947.3,674.5 948.3,675.1C949.3,675.7 950.3,676.3 951.3,676.9C952.3,677.4 953.3,678.0 954.3,678.5C955.2,679.1 956.5,679.7 957.0,680.0" stroke="#00f" stroke-width="2.5" stroke-linecap="round"/>
<path d="M189.3,982.9C189.8,981.9 191.3,978.8 192.3,976.7C193.3,974.7 194.3,972.6 195.3,970.5C196.3,968.5 197.3,966.5 198.3,964.4C199.3,962.4 200.3,960.3 201.3,958.3C202.3,956.3 203.3,954.2 204.3,952.2C205.3,950.2 206.3,948.2 207.3,946.2C208.3,944.2 209.3,942.1 210.3,940.1C211.3,938.1 212.3,936.1 213.3,934.1C214.3,932.2 215.3,930.2 216.3,928.2C217.3,926.2 218.3,924.2 219.3,922.2C220.3,920.3 221.3,918.3 222.3,916.3C223.3,914.3 224.3,912.4 225.3,910.4C226.3,908.5 227.3,906.5 228.3,904.5C229.3,902.6 230.3,900.6 231.3,898.7C232.3,896.8 233.3,894.8 234.3,892.9C235.3,891.0 236.3,889.0 237.3,887.1C238.3,885.2 239.3,883.2 240.3,881.3C241.3,879.4 242.3,877.5 243.3,875.6C244.3,873.7 245.3,871.8 246.3,869.9C247.3,868.0 248.3,866.1 249.3,864.2C250.3,862.3 251.3,860.4 252.3,858.5C253.3,856.6 254.3,854.7 255.3,852.9C256.3,851.0 257.3,849.1 258.3,847.2C259.3,845.4 260.3,843.5 261.3,841.6C262.3,839.8 263.3,837.9 264.3,836.1C265.3,834.2 266.3,832.4 267.3,830.5C268.3,828.7 269.3,826.8 270.3,825.0C271.3,823.2 272.3,821.3 273.3,819.5C274.3,817.7 275.3,815.8 276.3,814.0C277.3,812.2 278.3,810.4 279.3,808.5C280.3,806.7 281.3,804.9 282.3,803.1C283.3,801.3 284.3,799.5 285.3,797.7C286.3,795.9 287.3,794.1 288.3,792.3C289.3,790.5 290.3,788.7 291.3,787.0C292.3,785.2 293.3,783.4 294.3,781.6C295.3,779.9 296.3,778.1 297.3,776.3C298.3,774.6 299.3,772.8 300.3,771.1C301.3,769.3 302.3,767.6 303.3,765.8C304.3,764.1 305.3,762.4 306.3,760.6C307.3,758.9 308.3,757.2 309.3,755.5C310.3,753.7 311.3,752.0 312.3,750.3C313.3,748.6 314.3,746.9 315.3,745.2C316.3,743.5 317.3,741.8 318.3,740.2C319.3,738.5 320.3,736.8 321.3,735.1C322.3,733.5 323.3,731.8 324.3,730.2C325.3,728.5 326.3,726.9 327.3,725.2C328.3,723.6 329.3,722.0 330.3,720.3C331.3,718.7 332.3,717.1 333.3,715.5C334.3,713.9 335.3,712.3 336.3,710.7C337.3,709.1 338.3,707.5 339.3,705.9C340.3,704.3 341.3,702.8 342.3,701.2C343.3,699.6 344.3,698.1 345.3,696.5C346.3,695.0 347.3,693.5 348.3,691.9C349.3,690.4 350.3,688.9 351.3,687.4C352.3,685.9 353.3,684.3 354.3,682.8C355.3,681.4 356.3,679.9 357.3,678.4C358.3,676.9 359.3,675.4 360.3,673.9C361.3,672.5 362.3,671.0 363.3,669.5C364.3,668.1 365.3,666.6 366.3,665.2C367.3,663.7 368.3,662.3 369.3,660.9C370.3,659.4 371.3,658.0 372.3,656.6C373.3,655.1 374.3,653.7 375.3,652.3C376.3,650.9 377.3,649.5 378.3,648.1C379.3,646.7 380.3,645.2 381.3,643.8C382.3,642.4 383.3,641.0 384.3,639.7C385.3,638.3 386.3,636.9 387.3,635.5C388.3,634.1 389.3,632.7 390.3,631.3C391.3,629.9 392.3,628.5 393.3,627.2C394.3,625.8 395.3,624.4 396.3,623.0C397.3,621.7 398.3,620.3 399.3,618.9C400.3,617.5 401.3,616.2 402.3,614.8C403.3,613.4 404.3,612.0 405.3,610.7C406.3,609.3 407.3,607.9 408.3,606.6C409.3,605.2 410.3,603.8 411.3,602.4C412.3,601.1 413.3,599.7 414.3,598.3C415.3,596.9 416.3,595.5 417.3,594.1C418.3,592.7 419.3,591.2 420.3,589.7C421.3,588.2 422.3,586.6 423.3,585.0C424.3,583.3 425.3,581.6 426.3,579.8C427.3,578.0 428.3,576.1 429.3,574.1C430.3,572.2 431.3,570.1 432.3,568.2C433.3,566.2 434.3,564.2 435.3,562.4C436.3,560.5 437.3,558.7 438.3,556.9C439.3,555.2 440.3,553.6 441.3,552.0C442.4,550.5 443.4,549.0 444.4,547.6C445.4,546.2 446.4,544.9 447.4,543.6C448.4,542.3 449.4,541.1 450.4,540.0C451.4,538.8 452.5,537.7 453.5,536.7C454.5,535.7 455.5,534.7 456.5,533.7C457.6,532.8 458.6,531.9 459.6,531.1C460.6,530.2 461.7,529.4 462.7,528.6C463.8,527.9 464.8,527.1 465.8,526.4C466.9,525.7 467.9,525.1 469.0,524.5C470.0,523.8 471.1,523.2 472.1,522.6C473.2,522.1 474.3,521.5 475.3,521.0C476.4,520.5 477.5,520.0 478.6,519.5C479.6,519.0 480.7,518.5 481.8,518.0C482.9,517.6 484.0,517.1 485.1,516.7C486.2,516.2 487.2,515.8 488.3,515.4C489.4,514.9 490.5,514.5 491.6,514.1C492.7,513.7 493.8,513.3 494.9,512.9C496.0,512.4 497.1,512.0 498.2,511.7C499.3,511.3 500.4,510.9 501.5,510.5C502.6,510.1 503.7,509.7 504.7,509.4C505.8,509.0 506.9,508.7 507.9,508.3C509.0,508.0 510.1,507.7 511.1,507.3C512.2,507.0 513.2,506.7 514.2,506.4C515.3,506.1 516.3,505.8 517.3,505.5C518.3,505.2 519.3,505.0 520.3,504.7C521.3,504.5 522.3,504.2 523.2,504.0C524.2,503.8 525.2,503.6 526.1,503.4C527.1,503.2 528.0,503.0 529.0,502.8C529.9,502.6 530.8,502.5 531.8,502.3C532.7,502.2 533.6,502.1 534.5,501.9C535.4,501.8 536.3,501.7 537.3,501.7C538.2,501.6 539.1,501.5 540.0,501.5C540.9,501.5 541.8,501.4 542.7,501.4C543.6,501.4 544.5,501.4 545.4,501.5C546.3,501.5 547.2,501.5 548.1,501.6C549.0,501.7 549.9,501.8 550.8,501.9C551.7,502.0 552.7,502.1 553.6,502.3C554.5,502.5 555.4,502.6 556.4,502.8C557.3,503.0 558.2,503.2 559.2,503.5C560.1,503.7 561.0,503.9 562.0,504.2C562.9,504.5 563.9,504.8 564.9,505.1C565.8,505.4 566.8,505.7 567.7,506.0C568.7,506.3 569.7,506.7 570.6,507.0C571.6,507.4 572.6,507.7 573.5,508.1C574.5,508.5 575.5,508.9 576.5,509.3C577.5,509.7 578.5,510.1 579.4,510.5C580.4,511.0 581.4,511.4 582.4,511.8C583.4,512.3 584.4,512.7 585.4,513.2C586.4,513.6 587.4,514.1 588.3,514.6C589.3,515.0 590.3,515.5 591.3,516.0C592.3,516.5 593.3,517.0 594.3,517.4C595.3,517.9 596.3,518.4 597.3,518.9C598.3,519.4 599.3,519.9 600.3,520.4C601.3,520.9 602.3,521.4 603.3,521.9C604.3,522.4 605.3,522.9 606.3,523.4C607.3,523.9 608.3,524.4 609.3,524.9C610.3,525.4 611.3,525.8 612.3,526.3C613.3,526.8 614.3,527.3 615.3,527.8C616.3,528.3 617.3,528.8 618.3,529.2C619.3,529.7 620.3,530.2 621.3,530.7C622.3,531.2 623.3,531.6 624.3,532.1C625.3,532.6 626.3,533.1 627.3,533.6C628.3,534.1 629.3,534.6 630.3,535.0C631.3,535.5 632.3,536.0 633.3,536.5C634.3,537.0 635.3,537.5 636.3,538.0C637.3,538.5 638.3,539.0 639.3,539.6C640.3,540.1 641.3,540.6 642.3,541.1C643.3,541.6 644.3,542.2 645.3,542.7C646.3,543.2 647.3,543.7 648.3,544.2C649.3,544.7 650.3,545.2 651.3,545.6C652.3,546.1 653.3,546.5 654.3,547.0C655.3,547.4 656.3,547.7 657.3,548.1C658.3,548.4 659.3,548.7 660.3,549.0C661.3,549.3 662.3,549.5 663.3,549.7C664.3,549.8 665.3,550.0 666.3,550.0C667.3,550.1 668.3,550.1 669.3,550.1C670.3,550.1 671.3,550.0 672.3,549.9C673.3,549.8 674.3,549.7 675.3,549.5C676.3,549.4 677.3,549.2 678.3,549.0C679.3,548.9 680.3,548.7 681.3,548.5C682.3,548.3 683.3,548.1 684.3,547.9C685.3,547.7 686.3,547.6 687.3,547.4C688.3,547.3 689.3,547.1 690.3,547.0C691.3,546.9 692.3,546.9 693.3,546.8C694.3,546.8 695.3,546.8 696.3,546.9C697.3,546.9 698.3,547.0 699.3,547.2C700.3,547.4 701.3,547.6 702.3,547.9C703.3,548.2 704.3,548.6 705.3,549.1C706.3,549.5 707.3,550.0 708.3,550.6C709.3,551.2 710.3,551.9 711.3,552.6C712.3,553.3 713.3,554.1 714.3,554.9C715.3,555.7 716.3,556.5 717.3,557.4C718.3,558.3 719.3,559.2 720.3,560.1C721.3,561.1 722.3,562.1 723.3,563.0C724.3,564.0 725.3,565.0 726.3,566.0C727.3,567.0 728.3,568.0 729.3,569.0C730.3,570.0 731.3,570.9 732.3,571.9C733.3,572.9 734.3,573.9 735.3,574.8C736.3,575.8 737.3,576.7 738.3,577.7C739.3,578.6 740.3,579.5 741.3,580.5C742.3,581.4 743.3,582.3 744.3,583.2C745.3,584.2 746.3,585.1 747.3,586.0C748.3,586.9 749.3,587.8 750.3,588.7C751.3,589.7 752.3,590.6 753.3,591.5C754.3,592.4 755.3,593.3 756.3,594.2C757.3,595.1 758.3,596.0 759.3,596.9C760.3,597.9 761.3,598.8 762.3,599.7C763.3,600.6 764.3,601.5 765.3,602.4C766.3,603.4 767.3,604.3 768.3,605.2C769.3,606.1 770.3,607.0 771.3,607.9C772.3,608.8 773.3,609.6 774.3,610.5C775.3,611.4 776.3,612.2 777.3,613.1C778.3,613.9 779.3,614.7 780.3,615.5C781.3,616.3 782.3,617.1 783.3,617.9C784.3,618.6 785.3,619.3 786.3,620.0C787.3,620.7 788.3,621.3 789.3,621.9C790.3,622.5 791.3,623.0 792.3,623.5C793.3,623.9 794.3,624.4 795.3,624.7C796.3,625.1 797.3,625.4 798.3,625.6C799.3,625.9 800.3,626.0 801.3,626.2C802.3,626.4 803.3,626.5 804.3,626.6C805.3,626.7 806.3,626.7 807.3,626.8C808.3,626.8 809.3,626.8 810.3,626.8C811.3,626.8 812.3,626.8 813.3,626.8C814.3,626.8 815.3,626.8 816.3,626.8C817.3,626.7 818.3,626.7 819.3,626.7C820.3,626.7 821.3,626.7 822.3,626.8C823.3,626.8 824.3,626.9 825.3,627.0C826.3,627.0 827.3,627.2 828.3,627.3C829.3,627.5 830.3,627.7 831.3,627.9C832.3,628.2 833.3,628.4 834.3,628.8C835.3,629.1 836.3,629.5 837.3,630.0C838.3,630.5 839.3,631.0 840.3,631.6C841.3,632.2 842.3,632.8 843.3,633.5C844.3,634.2 845.3,634.9 846.3,635.7C847.3,636.4 848.3,637.3 849.3,638.1C850.3,638.9 851.3,639.8 852.3,640.7C853.3,641.5 854.3,642.4 855.3,643.3C856.3,644.2 857.3,645.2 858.3,646.1C859.3,647.0 860.3,647.9 861.3,648.8C862.3,649.7 863.3,650.6 864.3,651.5C865.3,652.4 866.3,653.2 867.3,654.1C868.3,654.9 869.3,655.7 870.3,656.5C871.3,657.2 872.3,658.0 873.3,658.7C874.3,659.4 875.3,660.0 876.3,660.6C877.3,661.2 878.3,661.8 879.3,662.3C880.3,662.9 881.3,663.4 882.3,663.9C883.3,664.3 884.3,664.8 885.3,665.2C886.3,665.6 887.3,665.9 888.3,666.3C889.3,666.6 890.3,667.0 891.3,667.3C892.3,667.6 893.3,667.8 894.3,668.1C895.3,668.3 896.3,668.6 897.3,668.8C898.3,669.0 899.3,669.2 900.3,669.3C901.3,669.5 902.3,669.6 903.3,669.8C904.3,669.9 905.3,670.0 906.3,670.2C907.3,670.3 908.3,670.4 909.3,670.5C910.3,670.5 911.3,670.6 912.3,670.7C913.3,670.8 914.3,670.8 915.3,670.9C916.3,671.0 917.3,671.0 918.3,671.1C919.3,671.1 920.3,671.2 921.3,671.2C922.3,671.3 923.3,671.4 924.3,671.4C925.3,671.5 926.3,671.6 927.3,671.6C928.3,671.7 929.3,671.8 930.3,671.9C931.3,671.9 932.3,672.0 933.3,672.1C934.3,672.3 935.3,672.4 936.3,672.5C937.3,672.6 938.3,672.8 939.3,672.9C940.3,673.1 941.3,673.3 942.3,673.5C943.3,673.7 944.3,673.9 945.3,674.1C946.3,674.4 947.3,674.6 948.3,674.9C949.3,675.2 950.3,675.5 951.3,675.9C952.3,676.2 953.3,676.6 954.3,677.0C955.2,677.3 956.5,677.9 957.0,678.1" stroke="#000" stroke-width="2.4" stroke-dasharray="1.9 5.0" stroke-linecap="round"/>
</g>
<rect x="189.30" y="420.90" width="767.70" height="562.00" stroke="#000" fill="none" stroke-width="2.30"/>
<g opacity="0.999">
<text transform="translate(189.60,1015.10) scale(1,1.040)" font-size="26.50" text-anchor="middle">0</text>
<text transform="translate(253.58,1015.10) scale(1,1.040)" font-size="26.50" text-anchor="middle">10</text>
<text transform="translate(317.55,1015.10) scale(1,1.040)" font-size="26.50" text-anchor="middle">20</text>
<text transform="translate(381.53,1015.10) scale(1,1.040)" font-size="26.50" text-anchor="middle">30</text>
<text transform="translate(445.50,1015.10) scale(1,1.040)" font-size="26.50" text-anchor="middle">40</text>
<text transform="translate(509.48,1015.10) scale(1,1.040)" font-size="26.50" text-anchor="middle">50</text>
<text transform="translate(573.45,1015.10) scale(1,1.040)" font-size="26.50" text-anchor="middle">60</text>
<text transform="translate(637.42,1015.10) scale(1,1.040)" font-size="26.50" text-anchor="middle">70</text>
<text transform="translate(701.40,1015.10) scale(1,1.040)" font-size="26.50" text-anchor="middle">80</text>
<text transform="translate(765.38,1015.10) scale(1,1.040)" font-size="26.50" text-anchor="middle">90</text>
<text transform="translate(829.35,1015.10) scale(1,1.040)" font-size="26.50" text-anchor="middle">100</text>
<text transform="translate(893.33,1015.10) scale(1,1.040)" font-size="26.50" text-anchor="middle">110</text>
<text transform="translate(957.30,1015.10) scale(1,1.040)" font-size="26.50" text-anchor="middle">120</text>
<text transform="translate(177.90,990.70) scale(1,1.040)" font-size="26.50" text-anchor="end">0</text>
<text transform="translate(177.90,952.38) scale(1,1.040)" font-size="26.50" text-anchor="end">15</text>
<text transform="translate(177.90,914.06) scale(1,1.040)" font-size="26.50" text-anchor="end">30</text>
<text transform="translate(177.90,875.75) scale(1,1.040)" font-size="26.50" text-anchor="end">45</text>
<text transform="translate(177.90,837.43) scale(1,1.040)" font-size="26.50" text-anchor="end">60</text>
<text transform="translate(177.90,799.11) scale(1,1.040)" font-size="26.50" text-anchor="end">75</text>
<text transform="translate(177.90,760.79) scale(1,1.040)" font-size="26.50" text-anchor="end">90</text>
<text transform="translate(177.90,722.47) scale(1,1.040)" font-size="26.50" text-anchor="end">105</text>
<text transform="translate(177.90,684.15) scale(1,1.040)" font-size="26.50" text-anchor="end">120</text>
<text transform="translate(177.90,645.84) scale(1,1.040)" font-size="26.50" text-anchor="end">135</text>
<text transform="translate(177.90,607.52) scale(1,1.040)" font-size="26.50" text-anchor="end">150</text>
<text transform="translate(177.90,569.20) scale(1,1.040)" font-size="26.50" text-anchor="end">165</text>
<text transform="translate(177.90,530.88) scale(1,1.040)" font-size="26.50" text-anchor="end">180</text>
<text transform="translate(177.90,492.56) scale(1,1.040)" font-size="26.50" text-anchor="end">195</text>
<text transform="translate(177.90,454.25) scale(1,1.040)" font-size="26.50" text-anchor="end">210</text>
<rect x="210.4" y="465.0" width="156.1" height="57.4" fill="none" stroke="#222" stroke-width="1"/>
<text transform="translate(224.30,506.60) scale(1,1.030)" font-size="30.90"><tspan font-size="18" dy="-15.8">78</tspan><tspan dy="15.8">Kr+</tspan><tspan font-size="18" dy="-15.8">40</tspan><tspan dy="15.8">Ca</tspan></text>
<rect x="643.8" y="768.2" width="253.7" height="114.0" fill="none" stroke="#222" stroke-width="1"/>
<g fill="none" stroke-linecap="round">
<path d="M648.3,786.6H711" stroke="#f00" stroke-width="2.5" stroke-dasharray="6.5 4.9 0.7 4.9"/>
<path d="M648.3,830.5H712.8" stroke="#00f" stroke-width="2.5"/>
<path d="M648.3,865.8H712.8" stroke="#000" stroke-width="2.5" stroke-dasharray="1.7 4.57"/>
</g>
<text transform="translate(730.60,796.90) scale(1,1.030)" font-size="26.75"><tspan font-style="italic">E</tspan><tspan font-size="16" dy="9.5" dx="-0.8">lab</tspan><tspan dy="-9.5">=770 MeV</tspan></text>
<text transform="translate(788.00,840.80) scale(1,1.030)" font-size="26.75">780 MeV</text>
<text transform="translate(788.00,875.70) scale(1,1.030)" font-size="26.75">790 MeV</text>
<g transform="translate(105.8,792.5) rotate(-90)">
<g transform="translate(9.46,-11) skewX(-19.7)">
<path fill-rule="evenodd" d="M-7,0A7,11 0 1 0 7,0A7,11 0 1 0 -7,0Z M-4.5,0A4.5,9.8 0 1 0 4.5,0A4.5,9.8 0 1 0 -4.5,0Z"/>
<rect x="-5" y="-0.7" width="10" height="1.4"/>
</g>
<text transform="translate(14.00,12.80) scale(1,1.000)" font-size="20.20">DNS</text>
<text transform="translate(65.50,0.00) scale(1,1.000)" font-size="34.00">(degree)</text>
</g>
<g fill="none" stroke="#000" stroke-linecap="round" stroke-linejoin="round">
<path d="M565.0,1059.7C567,1058.6 568.3,1057.6 569.5,1056.1C571.3,1053.9 572.8,1051.4 574.1,1048.9C575.4,1046.4 576.6,1043.9 577.2,1041.7C577.6,1040.1 577.8,1038.8 576.9,1038.5" stroke-width="1.1"/>
<path d="M576.9,1038.5C576,1038.2 575,1038.4 574.1,1039.4C572.7,1041 571.7,1043.4 570.9,1046.2C570.1,1049 569.5,1051.8 569.4,1054.3C569.3,1056.3 569.2,1058.2 569.5,1059.7C569.9,1061.6 570.9,1062.3 572.2,1062.2C573.8,1062.1 575.5,1060.9 576.9,1059.3" stroke-width="1.7"/>
</g>
<text transform="translate(604.00,1061.90) scale(1,1.000)" font-size="31.50" class="ser">ħ</text>
<path d="M600.7,1026.8C594.5,1033.5 591.5,1041 591.5,1049.3C591.5,1057.6 594.5,1065.2 600.7,1071.9L603.1,1071.9C599.5,1065 598.0,1057.5 598.0,1049.3C598.0,1041.1 599.5,1033.7 603.1,1026.8Z"/>
<path transform="translate(1226.6,0) scale(-1,1)" d="M600.7,1026.8C594.5,1033.5 591.5,1041 591.5,1049.3C591.5,1057.6 594.5,1065.2 600.7,1071.9L603.1,1071.9C599.5,1065 598.0,1057.5 598.0,1049.3C598.0,1041.1 599.5,1033.7 603.1,1026.8Z"/>
</g>
</svg></body></html>
